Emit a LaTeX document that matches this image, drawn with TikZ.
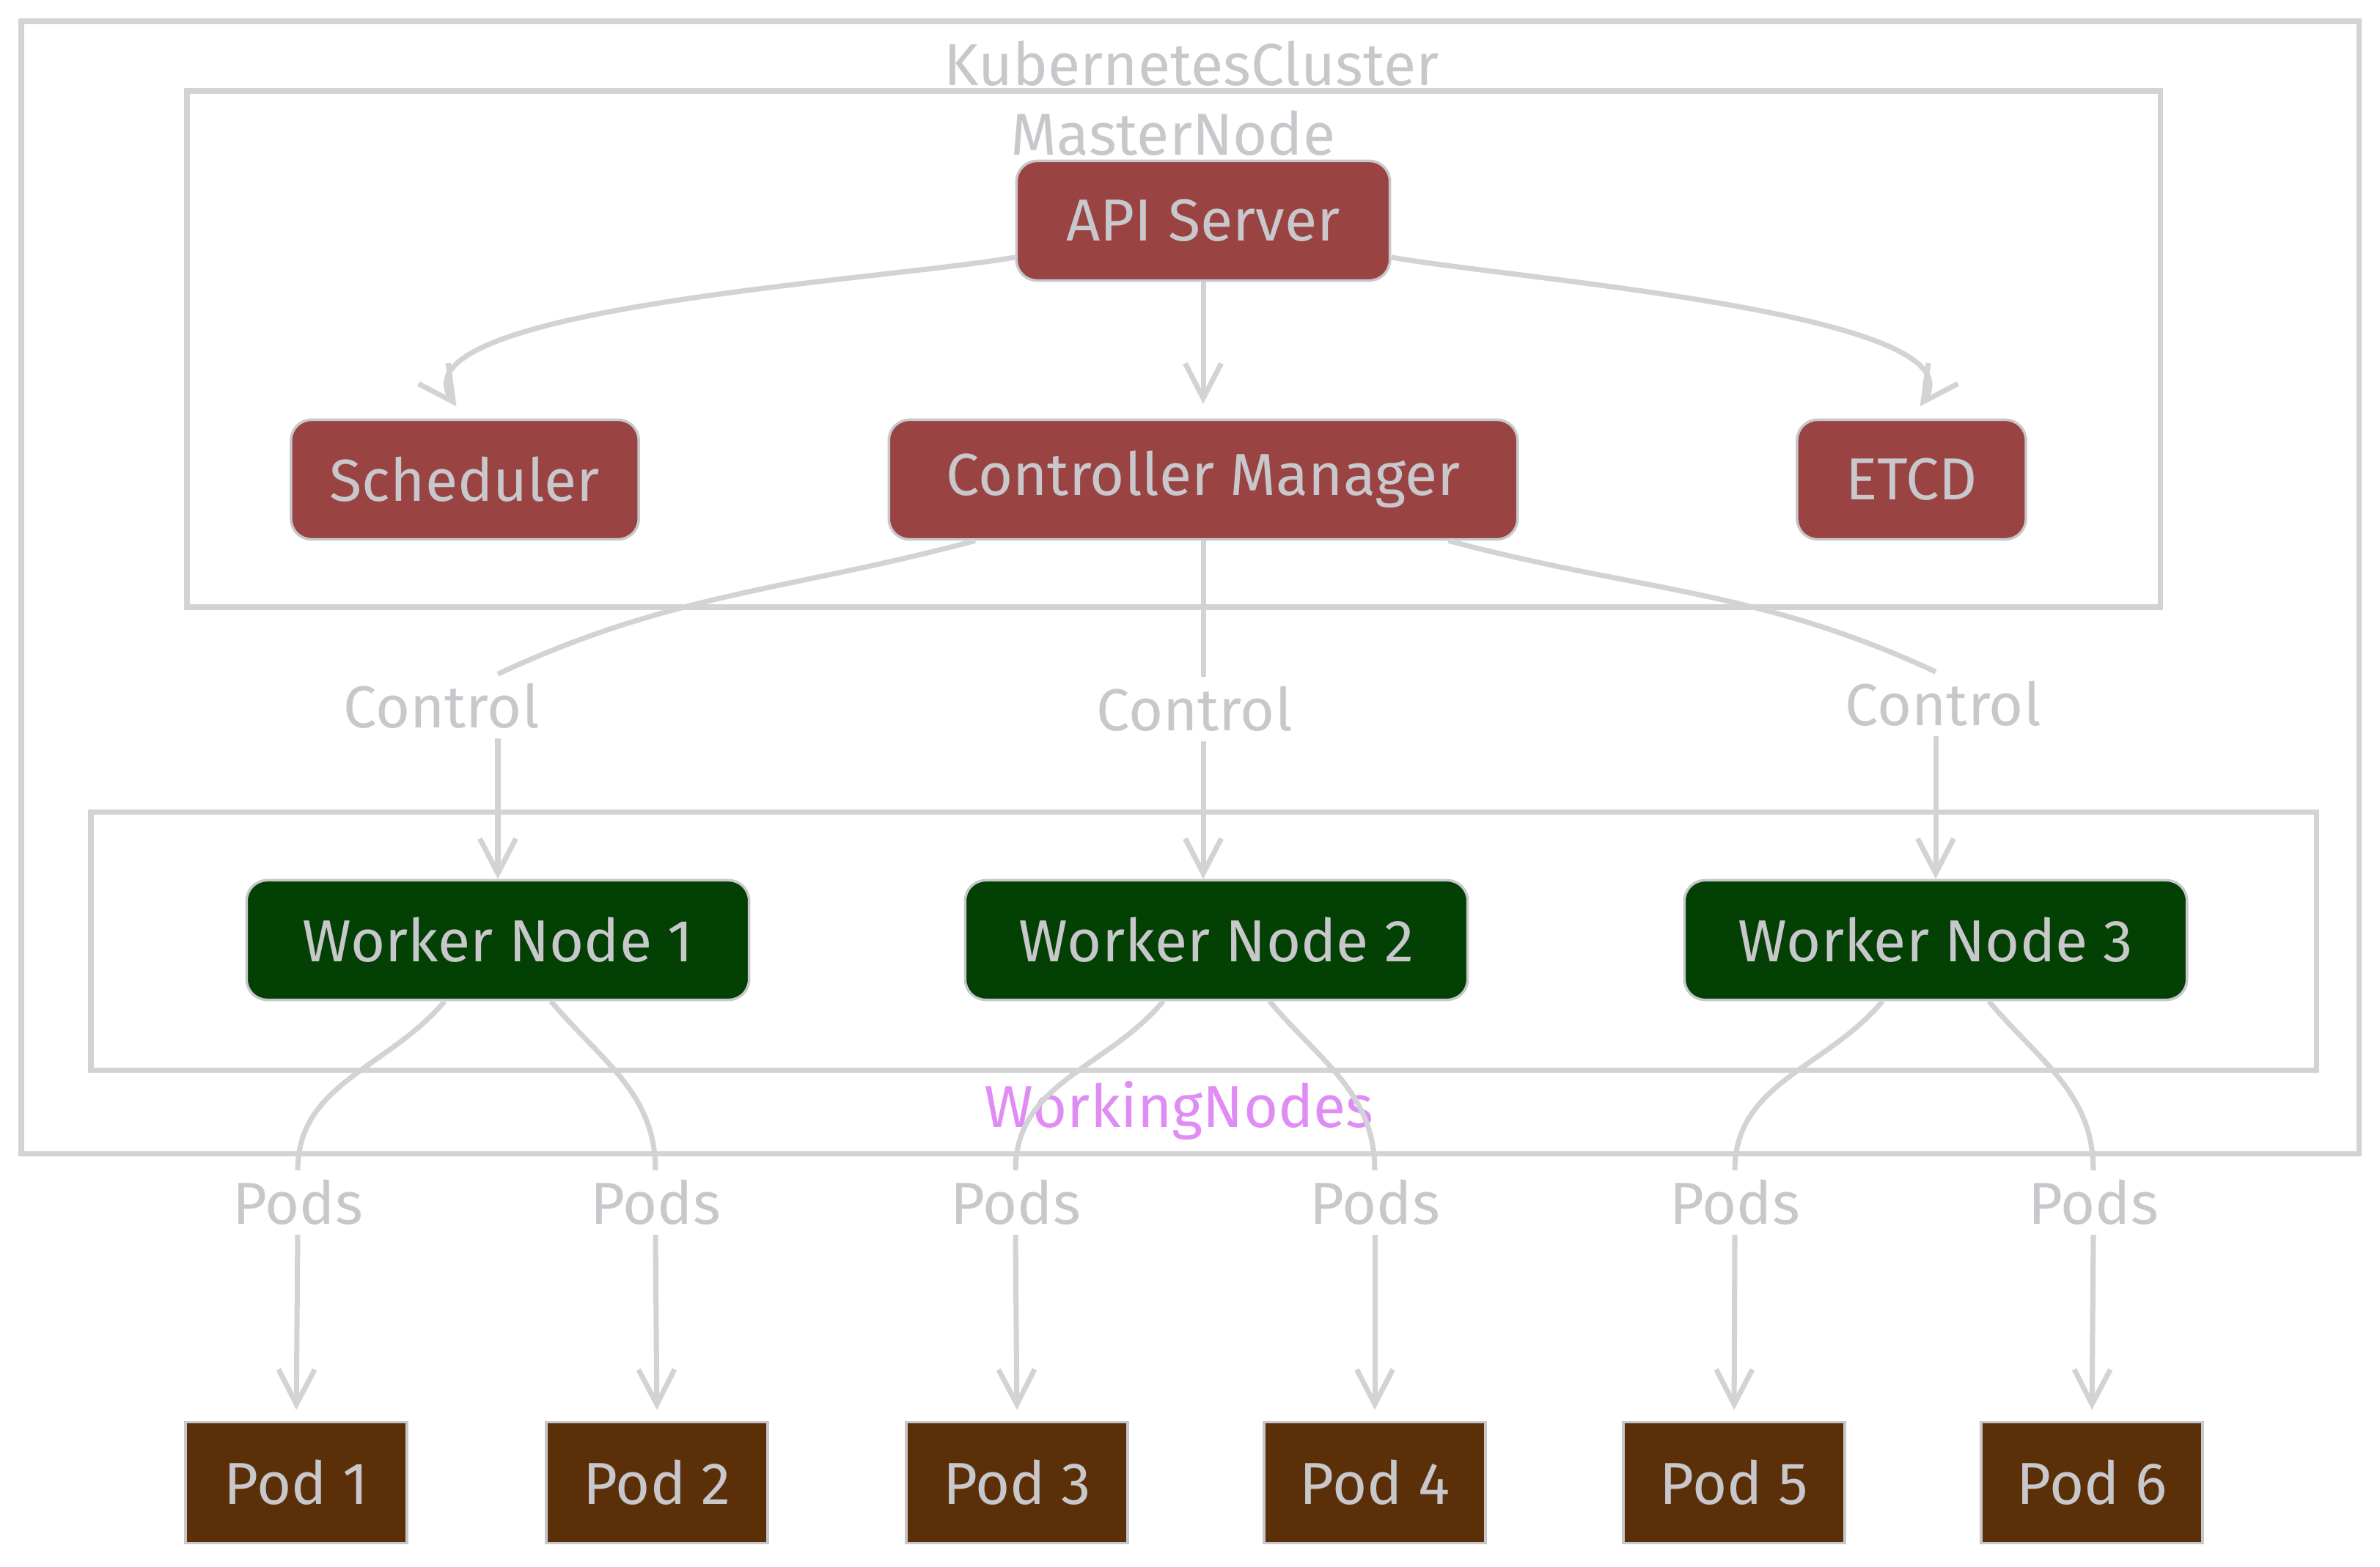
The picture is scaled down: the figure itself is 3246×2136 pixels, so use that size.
\documentclass[tikz,border=0pt]{standalone}
\usepackage{fontspec}
\setmainfont{Fira Sans}
\usetikzlibrary{arrows.meta}

\definecolor{inkgrey}{RGB}{200,200,204}
\definecolor{linegrey}{RGB}{211,211,214}
\definecolor{masterred}{RGB}{154,67,67}
\definecolor{workergreen}{RGB}{3,64,3}
\definecolor{podbrown}{RGB}{91,48,9}
\definecolor{groupviolet}{RGB}{224,140,245}

\begin{document}
\begin{tikzpicture}[x=0.01cm, y=0.01cm, line width=1.4pt,
    box/.style={draw=inkgrey, line width=1pt, rounded corners=0.28cm, text=inkgrey,
      font=\fontsize{23}{27}\selectfont, minimum height=1.63cm},
    masterbox/.style={box, fill=masterred},
    workerbox/.style={box, fill=workergreen, minimum width=6.85cm},
    podbox/.style={box, fill=podbrown, rounded corners=0pt, minimum width=3.02cm, minimum height=1.65cm},
    frame/.style={draw=linegrey, line width=2pt},
    caption/.style={text=inkgrey, font=\fontsize{23}{27}\selectfont},
    tag/.style={text=inkgrey, font=\fontsize{23}{27}\selectfont, inner sep=3pt},
    link/.style={draw=linegrey, line width=2pt},
    arrow/.style={link, -{Straight Barb[length=13.5pt, width=14pt]}}]
    \useasboundingbox (0, 0) rectangle (3246, -2136);

    % draw the three group frames
    \draw[frame] (29, -29) rectangle (3217, -1573);
    \draw[frame] (255, -124) rectangle (2946, -828);
    \draw[frame] (124, -1107) rectangle (3159, -1459);

    \node[caption] (clusterTitle) at (1625, -87) {KubernetesCluster};
    \node[caption] (masterTitle) at (1600, -182) {MasterNode};
    \node[caption, text=groupviolet] (workingTitle) at (1608, -1515) {WorkingNodes};

    % draw master node parts
    \node[masterbox, minimum width=5.09cm] (api) at (1641, -301) {API Server};
    \node[masterbox, minimum width=4.74cm] (sched) at (634, -654) {Scheduler};
    \node[masterbox, minimum width=8.57cm] (cm) at (1641, -654) {Controller Manager};
    \node[masterbox, minimum width=3.12cm] (etcd) at (2607, -654) {ETCD};

    % draw worker nodes
    \node[workerbox] (wn1) at (679, -1282) {Worker Node 1};
    \node[workerbox] (wn2) at (1659, -1282) {Worker Node 2};
    \node[workerbox] (wn3) at (2640, -1282) {Worker Node 3};

    % draw pods
    \node[podbox] (pod1) at (404, -2022) {Pod 1};
    \node[podbox] (pod2) at (896, -2022) {Pod 2};
    \node[podbox] (pod3) at (1387, -2022) {Pod 3};
    \node[podbox] (pod4) at (1875, -2022) {Pod 4};
    \node[podbox] (pod5) at (2365, -2022) {Pod 5};
    \node[podbox] (pod6) at (2853, -2022) {Pod 6};

    % edge labels
    \node[tag] (ctrlA) at (602, -963) {Control};
    \node[tag] (ctrlB) at (1629, -967) {Control};
    \node[tag] (ctrlC) at (2650, -960) {Control};

    \node[tag] (podsA) at (406, -1640) {Pods};
    \node[tag] (podsB) at (894, -1640) {Pods};
    \node[tag] (podsC) at (1385, -1640) {Pods};
    \node[tag] (podsD) at (1875, -1640) {Pods};
    \node[tag] (podsE) at (2366, -1640) {Pods};
    \node[tag] (podsF) at (2855, -1640) {Pods};

    % api server links
    \draw[arrow, shorten >=0.2cm] (api.191) to[out=190, in=125, looseness=0.6] (sched.north);
    \draw[arrow, shorten >=0.2cm] (api.south) -- (cm.north);
    \draw[arrow, shorten >=0.2cm] (api.349) to[out=-10, in=55, looseness=0.6] (etcd.north);

    % controller manager links
    \draw[link] (cm.195) to[out=195, in=25] (wn1.north |- ctrlA.north);
    \draw[arrow] (wn1.north |- ctrlA.south) -- (wn1.north);

    \draw[link] (cm.south) -- (cm.south |- ctrlB.north);
    \draw[arrow] (cm.south |- ctrlB.south) -- (cm.south |- wn2.north);

    \draw[link] (cm.-14) to[out=-15, in=155] (wn3.north |- ctrlC.north);
    \draw[arrow] (wn3.north |- ctrlC.south) -- (wn3.north);

    % worker node links
    \draw[link] (wn1.-131) to[out=-130, in=90] (podsA.north);
    \draw[link] (wn1.-49) to[out=-50, in=90] (podsB.north);
    \draw[link] (wn2.-131) to[out=-130, in=90] (podsC.north);
    \draw[link] (wn2.-49) to[out=-50, in=90] (podsD.north);
    \draw[link] (wn3.-131) to[out=-130, in=90] (podsE.north);
    \draw[link] (wn3.-49) to[out=-50, in=90] (podsF.north);

    \draw[arrow, shorten >=0.15cm] (podsA.south) -- (pod1.north);
    \draw[arrow, shorten >=0.15cm] (podsB.south) -- (pod2.north);
    \draw[arrow, shorten >=0.15cm] (podsC.south) -- (pod3.north);
    \draw[arrow, shorten >=0.15cm] (podsD.south) -- (pod4.north);
    \draw[arrow, shorten >=0.15cm] (podsE.south) -- (pod5.north);
    \draw[arrow, shorten >=0.15cm] (podsF.south) -- (pod6.north);
\end{tikzpicture}
\end{document}
